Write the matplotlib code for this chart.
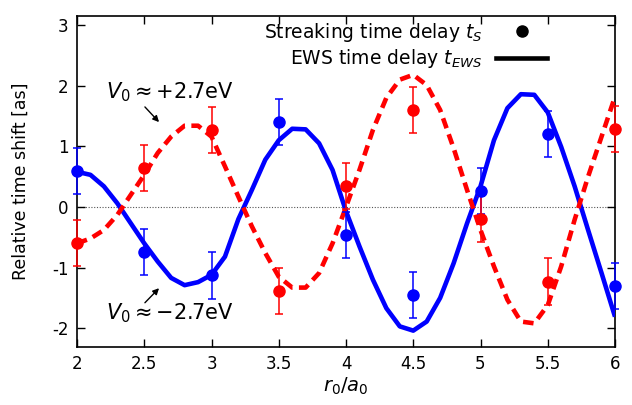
import matplotlib
matplotlib.use("Agg")
import matplotlib.pyplot as plt
import numpy as np

# Streaking data points
r_pts = [2.0, 2.5, 3.0, 3.5, 4.0, 4.5, 5.0, 5.5, 6.0]
ts_neg = [0.60, -0.75, -1.13, 1.40, -0.47, -1.45, 0.26, 1.20, -1.30]   # V0 ~ -2.7 eV (blue)
ts_pos = [-0.60, 0.65, 1.27, -1.38, 0.35, 1.60, -0.20, -1.23, 1.29]   # V0 ~ +2.7 eV (red)
err_neg = [0.38, 0.38, 0.38, 0.38, 0.38, 0.38, 0.38, 0.38, 0.38]
err_pos = [0.38, 0.38, 0.38, 0.38, 0.38, 0.38, 0.38, 0.38, 0.38]

# EWS curves
r_curve = [2.0, 2.1, 2.2, 2.3, 2.4, 2.5, 2.6, 2.7, 2.8, 2.9, 3.0,
           3.1, 3.2, 3.3, 3.4, 3.5, 3.6, 3.7, 3.8, 3.9, 4.0,
           4.1, 4.2, 4.3, 4.4, 4.5, 4.6, 4.7, 4.8, 4.9, 5.0,
           5.1, 5.2, 5.3, 5.4, 5.5, 5.6, 5.7, 5.8, 5.9, 6.0]
ews_neg = [0.58, 0.53, 0.34, 0.06, -0.27, -0.60, -0.90, -1.17, -1.29, -1.24, -1.12,
           -0.82, -0.20, 0.28, 0.78, 1.10, 1.29, 1.28, 1.05, 0.61, -0.07,
           -0.65, -1.20, -1.67, -1.97, -2.04, -1.89, -1.50, -0.93, -0.27, 0.34,
           1.10, 1.63, 1.86, 1.85, 1.56, 0.99, 0.34, -0.38, -1.09, -1.81]
ews_pos = [-0.60, -0.52, -0.38, -0.13, 0.20, 0.53, 0.89, 1.16, 1.34, 1.34, 1.16,
           0.67, 0.17, -0.32, -0.76, -1.15, -1.33, -1.33, -1.09, -0.60, 0.00,
           0.61, 1.27, 1.80, 2.10, 2.18, 2.01, 1.60, 0.97, 0.28, -0.38,
           -0.98, -1.53, -1.89, -1.92, -1.62, -0.98, -0.21, 0.50, 1.16, 1.82]

x_ticks = [2, 2.5, 3, 3.5, 4, 4.5, 5, 5.5, 6]
x_ticklabels = ["2", "2.5", "3", "3.5", "4", "4.5", "5", "5.5", "6"]
y_ticks = [-2, -1, 0, 1, 2, 3]
y_ticklabels = ["-2", "-1", "0", "1", "2", "3"]

BLUE = "#0000ff"
RED = "#ff0000"

fig = plt.figure(figsize=(6.32, 4.05), dpi=100)
ax = fig.add_axes([77/632, 1-347/405, (615-77)/632, (347-16)/405])

ax.axhline(0, color="#555555", lw=0.8, ls=(0, (1, 1.5)), zorder=1)

ax.plot(r_curve, ews_neg, color=BLUE, lw=3.3, solid_capstyle="butt", zorder=3)
ax.plot(r_curve, ews_pos, color=RED, lw=3.3, ls=(0, (2.3, 1.4)), zorder=3)

ax.errorbar(r_pts, ts_neg, yerr=err_neg, fmt="o", color=BLUE, ms=8, elinewidth=1.1,
            capsize=3, capthick=1.1, zorder=4, clip_on=False)
ax.errorbar(r_pts, ts_pos, yerr=err_pos, fmt="o", color=RED, ms=8, elinewidth=1.1,
            capsize=3, capthick=1.1, zorder=4, clip_on=False)

# legend proxies
h1, = ax.plot([], [], "o", color="black", ms=8)
h2, = ax.plot([], [], "-", color="black", lw=3.3)
leg = ax.legend([h1, h2], [r"Streaking time delay $t_S$", r"EWS time delay $t_{EWS}$"],
                loc="upper right", bbox_to_anchor=(0.898, 1.026), frameon=False,
                markerfirst=False, fontsize=13.5, handlelength=2.7, handletextpad=0.75,
                labelspacing=0.2, borderaxespad=0.3)

ax.text(2.69, 1.90, r"$V_0 \approx {+}2.7$eV", fontsize=15, ha="center", va="center")
ax.text(2.69, -1.76, r"$V_0 \approx {-}2.7$eV", fontsize=15, ha="center", va="center")
ax.annotate("", xy=(2.61, 1.40), xytext=(2.505, 1.65),
            arrowprops=dict(arrowstyle="-|>", color="black", lw=1.0,
                            mutation_scale=9, shrinkA=0, shrinkB=0))
ax.annotate("", xy=(2.61, -1.34), xytext=(2.505, -1.58),
            arrowprops=dict(arrowstyle="-|>", color="black", lw=1.0,
                            mutation_scale=9, shrinkA=0, shrinkB=0))

ax.set_xlim(2, 6)
ax.set_ylim(-2.31, 3.15)
ax.set_xticks(x_ticks)
ax.set_xticklabels(x_ticklabels)
ax.set_yticks(y_ticks)
ax.set_yticklabels(y_ticklabels)
ax.tick_params(direction="in", top=True, right=True, length=6, width=1,
               labelsize=12, pad=6)
for s in ax.spines.values():
    s.set_linewidth(1.2)

ax.set_xlabel(r"$r_0/a_0$", fontsize=14, labelpad=2)
ax.set_ylabel("Relative time shift [as]", fontsize=12.5, labelpad=16)

fig.savefig("out.png", dpi=100)
